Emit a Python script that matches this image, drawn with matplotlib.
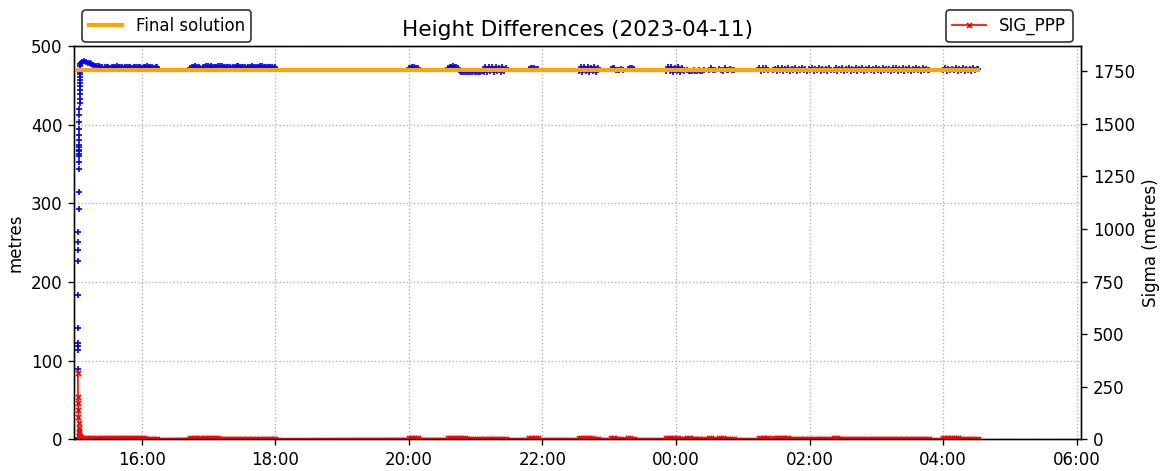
import numpy as np
import matplotlib
matplotlib.use("Agg")
import matplotlib.pyplot as plt
import matplotlib.dates as mdates

# Observation arcs of the PPP run (start / end of each continuous stretch)
arc_start = [
    "2023-04-11 15:02:30", "2023-04-11 15:05:00", "2023-04-11 15:27:00",
    "2023-04-11 16:43:30", "2023-04-11 16:55:00", "2023-04-11 20:00:00",
    "2023-04-11 20:35:00", "2023-04-11 21:47:40", "2023-04-11 22:32:40",
    "2023-04-11 23:01:30", "2023-04-11 23:16:50", "2023-04-11 23:51:00",
    "2023-04-12 00:10:00", "2023-04-12 00:30:00", "2023-04-12 00:39:00",
    "2023-04-12 01:14:40", "2023-04-12 01:27:20", "2023-04-12 02:22:00",
    "2023-04-12 04:00:00", "2023-04-12 04:10:00",
]
arc_end = [
    "2023-04-11 15:04:45", "2023-04-11 15:24:20", "2023-04-11 16:13:50",
    "2023-04-11 16:52:30", "2023-04-11 18:00:00", "2023-04-11 20:08:00",
    "2023-04-11 21:27:00", "2023-04-11 21:55:40", "2023-04-11 22:49:50",
    "2023-04-11 23:12:00", "2023-04-11 23:22:00", "2023-04-12 00:07:00",
    "2023-04-12 00:25:00", "2023-04-12 00:35:00", "2023-04-12 00:52:00",
    "2023-04-12 01:22:40", "2023-04-12 02:19:00", "2023-04-12 03:47:40",
    "2023-04-12 04:08:00", "2023-04-12 04:31:40",
]

# Height differences (m), one list per arc
height_arcs = [
    [2, 90, 114, 118, 122, 141, 183, 227, 241, 251, 264, 293, 314, 343, 353,
     360, 363, 366, 368, 371, 374, 380, 387, 395, 404, 412, 420, 427, 433,
     439, 444, 449, 453, 457, 461, 464, 467, 470, 474, 477],
    [478, 480, 481, 480, 479, 478, 477, 476, 475, 474.5, 474, 473.5, 473],
    [473, 473.5, 473, 472.5, 473, 473, 473.5, 474, 473.5, 473, 473, 472.5,
     473, 473.5, 473, 473, 472.5, 473, 473, 473, 473.5, 473, 472.5, 473,
     473.5, 474, 473.5, 473, 473, 472.5, 473, 473],
    [472.5, 473, 473.5, 474, 473.5, 473, 472.5],
    [473, 473.5, 474, 474, 473.5, 474, 473.5, 473, 473.5, 474, 474.5, 474,
     473.5, 473, 473.5, 473.5, 473, 472.5, 473, 473.5, 474, 474, 473.5,
     473.5, 473, 473, 472.5, 473, 473.5, 474, 473.5, 473, 473, 473.5, 474,
     474, 473.5, 473, 473.5, 473.5, 473, 473, 472.5, 473],
    [471.5, 472.5, 473, 473, 472.5, 471.5],
    [472.5, 473, 473.5, 474, 473.5, 473, 472, 468, 467.5, 467.5, 467, 467.5,
     467.5, 467, 467.5, 468, 467.5, 467, 467.5, 467.5, 468, 467.5, 473,
     467.5, 473, 468, 473.5, 467.5, 473, 468, 472.5, 467.5, 473, 468, 472.5],
    [471, 472, 471.5, 472, 471, 470.5],
    [468, 473, 467.5, 473, 468, 473, 467.5, 472.5, 468, 473, 467.5, 472.5],
    [470.5, 472, 471.5, 470, 469, 470, 471, 470],
    [471, 472, 471.5, 470.5],
    [468, 473, 468, 473, 467.5, 472.5, 468, 473, 467.5, 472.5, 468],
    [469, 468.5, 468, 468.5, 469, 468, 468.5, 469, 468, 468.5, 469],
    [469, 471.5, 470, 469.5],
    [471, 469, 468.5, 471.5, 469, 470, 471, 469, 470],
    [471.5, 468.5, 472, 469, 471.5, 469],
    [469, 471, 468.5, 471.5, 469, 472, 468.5, 471, 469.5, 471.5, 468.5, 471,
     469, 471.5, 468.5, 471, 469, 471.5, 469, 471, 468.5, 470.5, 469.5,
     471.5, 468.5, 471, 469, 472, 468.5, 471, 469.5, 471, 468.5, 471.5, 470],
    [469, 471.5, 468.5, 471, 469.5, 471.5, 468.5, 471, 469, 472, 468.5, 471,
     469, 471.5, 468.5, 471, 469.5, 471.5, 468.5, 471, 469, 471.5, 469, 471,
     468.5, 471.5, 469, 471, 468.5, 471.5, 469, 471, 469.5, 471, 468.5,
     471.5, 469, 472, 468.5, 471, 469.5, 471.5, 468.5, 471, 469, 471.5,
     468.5, 471, 469.5, 471.5, 469, 471, 468.5, 471.5, 469, 471, 469.5, 470],
    [469, 471.5, 468.5, 471, 469.5, 470.5],
    [469, 471.5, 468.5, 471, 469, 471.5, 468.5, 471, 469.5, 471, 468.5,
     471.5, 469, 471, 470.5],
]

# Formal sigma of the PPP height (m), one list per arc
sigma_arcs = [
    [314, 202, 171, 139, 107, 76, 52, 40, 30, 22, 17, 14, 12, 10.5, 9.5,
     8.5, 8, 7.5],
    [7.5, 8, 8, 7.5, 7.5, 7, 7, 6.5, 6.5, 6, 6, 6, 5.5],
    [5.5, 5.5, 5.5, 5, 5, 5, 5, 5, 4.5, 4.5, 4.5, 4.5, 4.5, 4.5, 4.5, 4, 4,
     4, 4, 4, 4, 4, 4, 4, 3.5, 3.5, 3.5, 3.5, 3.5, 3.5, 3.5, 3.5],
    [5, 4.5, 4.5, 4.5, 4, 4, 4],
    [4.5, 4.5, 4.5, 4, 4, 4, 4, 4, 4, 4, 3.5, 3.5, 3.5, 3.5, 3.5, 3.5, 3.5,
     3.5, 3.5, 3.5, 3.5, 3.5, 3, 3, 3, 3, 3, 3, 3, 3, 3, 3, 3, 3, 3, 3, 3,
     3, 3, 3, 3, 3, 3, 3],
    [5, 4.5, 4.5, 4.5, 4, 4],
    [5, 4.5, 4.5, 4.5, 4, 4, 4, 4, 4, 4, 4, 3.5, 3.5, 3.5, 3.5, 3.5, 3.5,
     3.5, 3.5, 3.5, 3.5, 3.5, 3, 3, 3, 3, 3, 3, 3, 3, 3, 3, 3, 3, 3],
    [4.5, 4.5, 4, 4, 4, 4],
    [4.5, 4.5, 4.5, 4, 4, 4, 4, 4, 3.5, 3.5, 3.5, 3.5],
    [4, 4, 4, 3.5, 3.5, 3.5, 3.5, 3.5],
    [4, 4, 3.5, 3.5],
    [4.5, 4.5, 4.5, 4, 4, 4, 4, 4, 3.5, 3.5, 3.5],
    [4, 4, 4, 3.5, 3.5, 3.5, 3.5, 3.5, 3.5, 3.5, 3.5],
    [4, 4, 3.5, 3.5],
    [4, 4, 4, 3.5, 3.5, 3.5, 3.5, 3.5, 3.5],
    [4.5, 4.5, 4, 4, 4, 4],
    [4.5, 4.5, 4.5, 4, 4, 4, 4, 4, 4, 4, 3.5, 3.5, 3.5, 3.5, 3.5, 3.5, 3.5,
     3.5, 3.5, 3.5, 3, 3, 3, 3, 3, 3, 3, 3, 3, 3, 3, 3, 3, 3, 3],
    [4, 4, 4, 3.5, 3.5, 3.5, 3.5, 3.5, 3.5, 3.5, 3.5, 3.5, 3.5, 3, 3, 3, 3,
     3, 3, 3, 3, 3, 3, 3, 3, 3, 3, 3, 3, 3, 3, 3, 3, 3, 3, 3, 3, 3, 3, 3,
     3, 3, 3, 3, 3, 3, 3, 3, 3, 3, 3, 3, 3, 3, 3, 3, 3, 3],
    [4.5, 4.5, 4, 4, 4, 4],
    [4, 4, 4, 3.5, 3.5, 3.5, 3.5, 3.5, 3.5, 3.5, 3.5, 3.5, 3.5, 3.5, 3.5],
]

final_solution = 470.0
title = "Height Differences (2023-04-11)"
x_range = ("2023-04-11 14:59:04", "2023-04-12 06:03:54")


def arc_series(values_per_arc):
    t_all, v_all = [], []
    for s, e, vals in zip(arc_start, arc_end, values_per_arc):
        t = np.linspace(mdates.datestr2num(s), mdates.datestr2num(e), len(vals))
        t_all.append(t)
        v_all.append(np.asarray(vals, dtype=float))
    return np.concatenate(t_all), np.concatenate(v_all)


t_h, height = arc_series(height_arcs)
t_s, sigma = arc_series(sigma_arcs)

fig = plt.figure(figsize=(9.7, 3.925), dpi=120)
ax1 = fig.add_axes([74 / 1164, 31.7 / 471, 1007 / 1164, 393.3 / 471])

ax1.plot(t_h, height, "b+", ms=4, mew=1.0)
ax1.plot([t_h[0], t_h[-1]], [final_solution, final_solution],
         color="orange", lw=2.5, label="Final solution")
ax1.set_ylim(0, 500)
ax1.set_ylabel("metres")
ax1.set_title(title, fontsize=13)
ax1.grid(True, linestyle=":")
ax1.xaxis.set_major_locator(mdates.HourLocator(byhour=range(0, 24, 2)))
ax1.xaxis.set_major_formatter(mdates.DateFormatter("%H:%M"))
ax1.set_xlim(mdates.datestr2num(x_range[0]), mdates.datestr2num(x_range[1]))

ax2 = ax1.twinx()
ax2.plot(t_s, sigma, "r-x", lw=1, ms=3, label="SIG_PPP")
ax2.set_ylim(0, 1870)
ax2.set_ylabel("Sigma (metres)")
ax2.set_xlim(ax1.get_xlim())

ax1.legend(loc="upper left", bbox_to_anchor=(0, 1.112), edgecolor="k")
ax2.legend(loc="upper right", bbox_to_anchor=(1, 1.112), edgecolor="k")

fig.savefig("out.png", dpi=120)
